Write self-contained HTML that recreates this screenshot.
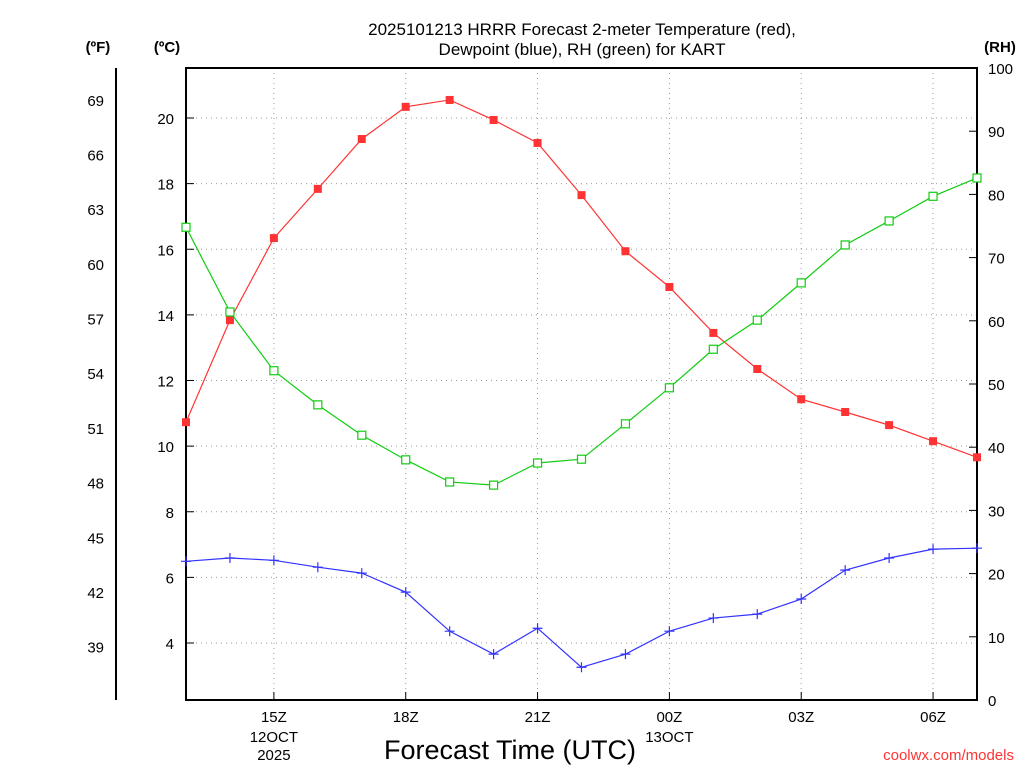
<!DOCTYPE html>
<html><head><meta charset="utf-8"><style>
body{margin:0;background:#fff;}
svg{display:block;font-family:"Liberation Sans",sans-serif;}
</style></head><body>
<svg id="c" width="1024" height="768" viewBox="0 0 1024 768">
<text x="582" y="35" text-anchor="middle" font-size="17">2025101213 HRRR Forecast 2-meter Temperature (red),</text>
<text x="582" y="55" text-anchor="middle" font-size="17">Dewpoint (blue), RH (green) for KART</text>
<text x="98" y="52" text-anchor="middle" font-size="15" font-weight="bold">(ºF)</text>
<text x="167" y="52" text-anchor="middle" font-size="15" font-weight="bold">(ºC)</text>
<text x="1000" y="52" text-anchor="middle" font-size="15" font-weight="bold">(RH)</text>
<text x="510" y="759" text-anchor="middle" font-size="27">Forecast Time (UTC)</text>
<text x="1014" y="760" text-anchor="end" font-size="15" fill="#f33">coolwx.com/models</text>
<g id="grid"></g><g id="axes"></g><g id="series"></g>
</svg>
<script>
const hours=[0,1,2,3,4,5,6,7,8,9,10,11,12,13,14,15,16,17,18];
const tempC=[10.73,13.84,16.34,17.84,19.36,20.34,20.55,19.94,19.24,17.65,15.94,14.85,13.45,12.35,11.43,11.04,10.64,10.15,9.66];
const dewC=[6.49,6.59,6.52,6.31,6.13,5.55,4.36,3.66,4.45,3.26,3.66,4.36,4.76,4.88,5.34,6.22,6.59,6.86,6.89];
const rh=[74.8,61.4,52.1,46.7,41.9,38.0,34.5,34.0,37.5,38.1,43.7,49.4,55.5,60.1,66.0,72.0,75.8,79.7,82.6];
const xTickHours=[2,5,8,11,14,17];
const xTickLabels=["15Z","18Z","21Z","00Z","03Z","06Z"];
const cTicks=[4,6,8,10,12,14,16,18,20];
const fTicks=[39,42,45,48,51,54,57,60,63,66,69];
const rhTicks=[0,10,20,30,40,50,60,70,80,90,100];
const L=186,R=977,T=68,B=700,NS="http://www.w3.org/2000/svg";
const x=h=>L+h*(R-L)/18;
const yC=c=>118+(20-c)*32.8125;
const yF=f=>yC((f-32)*5/9);
const yR=v=>B-v*(B-T)/100;
function mk(tag,attrs,parent,txt){const e=document.createElementNS(NS,tag);for(const k in attrs)e.setAttribute(k,attrs[k]);if(txt!==undefined)e.textContent=txt;document.getElementById(parent).appendChild(e);return e;}
xTickHours.forEach((h,i)=>{
 const g=mk('line',{x1:x(h),x2:x(h),y1:T,y2:B,stroke:'#999','stroke-dasharray':'1,4'},'grid');
 
 
 const t=mk('line',{x1:x(h),x2:x(h),y1:B,y2:B-8,stroke:'#000'},'axes');
 
 
 const l=mk('text',{x:x(h),y:B+22,'text-anchor':'middle','font-size':15},'axes',xTickLabels[i]);
 
 
});
[[2,"12OCT"],[2,"2025"],[11,"13OCT"]].forEach((d,i)=>{
 const l=mk('text',{x:x(d[0]),y:B+(i==1?60:42),'text-anchor':'middle','font-size':15},'axes',d[1]);
 
 
});
cTicks.forEach(c=>{
 const g=mk('line',{x1:L,x2:R,y1:yC(c),y2:yC(c),stroke:'#999','stroke-dasharray':'1,4'},'grid');
 
 
 const l=mk('text',{x:L-12,y:yC(c)+6,'text-anchor':'end','font-size':15},'axes',c);
 
 
 const t=mk('line',{x1:L,x2:L+8,y1:yC(c),y2:yC(c),stroke:'#000'},'axes');
 
 
});
fTicks.forEach(f=>{
 const l=mk('text',{x:104,y:yF(f)+6,'text-anchor':'end','font-size':15},'axes',f);
 
 
});
rhTicks.forEach(v=>{
 const l=mk('text',{x:988,y:yR(v)+6,'font-size':15},'axes',v);
 
 
 const t=mk('line',{x1:R-8,x2:R,y1:yR(v),y2:yR(v),stroke:'#000'},'axes');
 
 
});
const fr=mk('rect',{x:L,y:T,width:R-L,height:B-T,fill:'none',stroke:'#000','stroke-width':2},'axes');


const fa=mk('line',{x1:116,x2:116,y1:T,y2:B,stroke:'#000','stroke-width':2},'axes');


function series(vals,yf,color,name,marker){
 const p=mk('polyline',{points:vals.map((v,i)=>x(hours[i])+','+yf(v)).join(' '),fill:'none',stroke:color,'stroke-width':1.2},'series');
 
 
 vals.forEach((v,i)=>{
  const cx=x(hours[i]),cy=yf(v);let m;
  if(marker==='fill')m=mk('rect',{x:cx-4,y:cy-4,width:8,height:8,fill:color},'series');
  else if(marker==='open')m=mk('rect',{x:cx-4,y:cy-4,width:8,height:8,fill:'#fff',stroke:color,'stroke-width':1.2},'series');
  else m=mk('path',{d:`M${cx-5},${cy}H${cx+5}M${cx},${cy-5}V${cy+5}`,stroke:color,'stroke-width':1.2},'series');
  
  
 });
}
series(tempC,yC,'#f33','temperature','fill');
series(rh,yR,'#1c1','rh','open');
series(dewC,yC,'#33f','dewpoint','plus');
</script>
</body></html>
